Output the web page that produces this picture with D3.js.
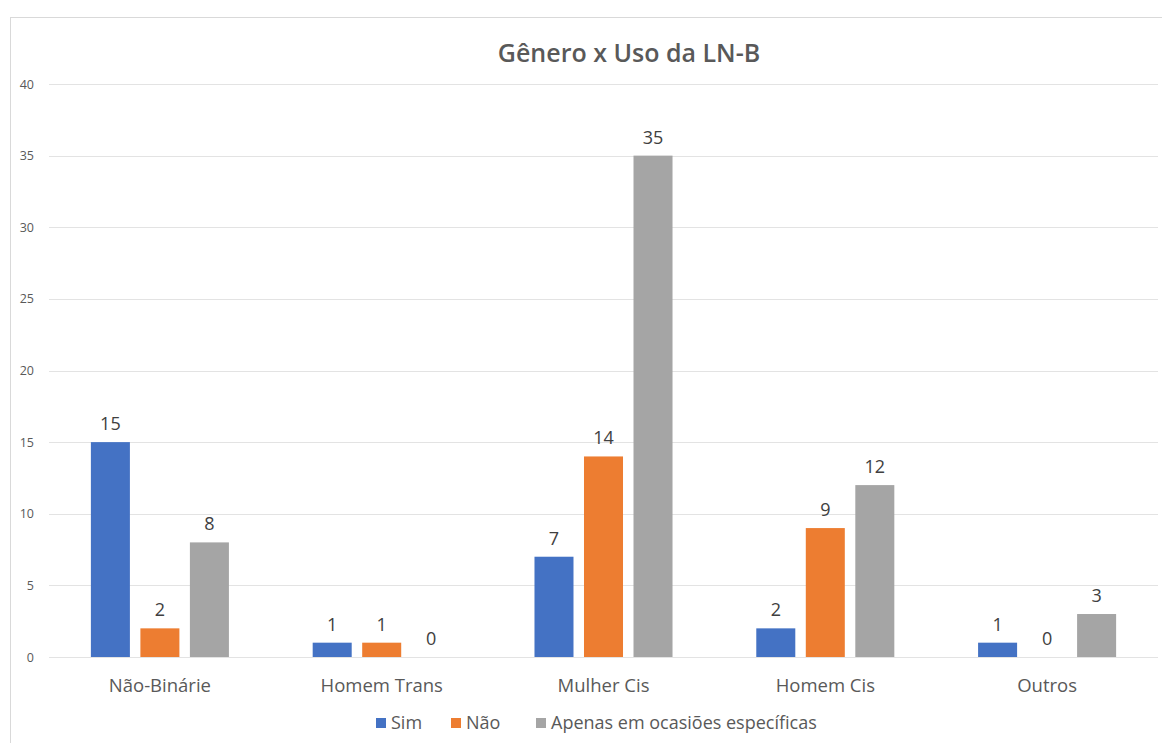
<!DOCTYPE html>
<html>
<head>
<meta charset="utf-8">
<script src="https://cdn.jsdelivr.net/npm/d3@7"></script>
<style>
  body { margin: 0; background: #fff; }
  text { font-family: "Open Sans", "Noto Sans", sans-serif; }
</style>
</head>
<body>
<svg id="chart" width="1162" height="743"></svg>
<script>
// Gênero x Uso da LN-B
const categories = ["Não-Binárie", "Homem Trans", "Mulher Cis", "Homem Cis", "Outros"];
const seriesNames = ["Sim", "Não", "Apenas em ocasiões específicas"];
const sim = [15, 1, 7, 2, 1];
const nao = [2, 1, 14, 9, 0];
const apenas = [8, 0, 35, 12, 3];
const yTicks = [0, 5, 10, 15, 20, 25, 30, 35, 40];
const colors = ["#4472C4", "#ED7D31", "#A5A5A5"];

const series = [sim, nao, apenas];
const svg = d3.select("#chart");

// chart frame
svg.append("rect")
  .attr("x", 10.5).attr("y", 17.5)
  .attr("width", 1160).attr("height", 740)
  .attr("fill", "#fff").attr("stroke", "#d9d9d9").attr("stroke-width", 1);

const plot = { left: 49, right: 1158, top: 84, bottom: 657 };

const x0 = d3.scaleBand().domain(categories).range([plot.left, plot.right]).paddingInner(0).paddingOuter(0);
const x1 = d3.scaleBand().domain(seriesNames).range([0, x0.bandwidth()]).paddingInner(0.212).paddingOuter(0.846);
const y = d3.scaleLinear().domain([0, 40]).range([plot.bottom, plot.top]);

// gridlines
svg.append("g")
  .selectAll("line").data(yTicks).join("line")
  .attr("x1", plot.left).attr("x2", plot.right)
  .attr("y1", d => Math.round(y(d)) + 0.5).attr("y2", d => Math.round(y(d)) + 0.5)
  .attr("stroke", "#e3e3e3").attr("stroke-width", 1);

// y axis labels
const yAxis = d3.axisLeft(y).tickValues(yTicks).tickSize(0).tickPadding(15);
const gy = svg.append("g").attr("transform", `translate(${plot.left},0)`).call(yAxis);
gy.select(".domain").remove();
gy.selectAll("text").attr("fill", "#595959").style("font-size", "12.5px");

// bars
const groups = svg.append("g").selectAll("g").data(categories).join("g")
  .attr("transform", d => `translate(${x0(d)},0)`);

groups.each(function(cat, ci) {
  const g = d3.select(this);
  seriesNames.forEach((s, si) => {
    const v = series[si][ci];
    g.append("rect")
      .attr("x", x1(s)).attr("width", x1.bandwidth())
      .attr("y", y(v)).attr("height", y(0) - y(v))
      .attr("fill", colors[si]);
    g.append("text")
      .attr("x", x1(s) + x1.bandwidth() / 2)
      .attr("y", y(v) - 12)
      .attr("text-anchor", "middle")
      .attr("fill", "#404040")
      .style("font-size", "18px")
      .text(v);
  });
});

// category axis
const xAxis = d3.axisBottom(x0).tickSize(0).tickPadding(0);
const gx = svg.append("g").attr("transform", `translate(0,${plot.bottom})`).call(xAxis);
gx.select(".domain").remove();
gx.selectAll("text").attr("dy", null).attr("y", 35)
  .attr("fill", "#595959").style("font-size", "18.5px");

// title
svg.append("text")
  .attr("x", 629).attr("y", 62)
  .attr("text-anchor", "middle")
  .attr("fill", "#595959")
  .style("font-size", "25px").style("font-weight", "600")
  .text("Gênero x Uso da LN-B");

// legend
const legendItems = [
  { name: seriesNames[0], x: 376 },
  { name: seriesNames[1], x: 451 },
  { name: seriesNames[2], x: 536 }
];
const lg = svg.append("g");
legendItems.forEach((it, i) => {
  lg.append("rect").attr("x", it.x).attr("y", 718).attr("width", 10).attr("height", 10).attr("fill", colors[i]);
  lg.append("text").attr("x", it.x + 15).attr("y", 729)
    .attr("fill", "#595959").style("font-size", "18px").text(it.name);
});
</script>
</body>
</html>
